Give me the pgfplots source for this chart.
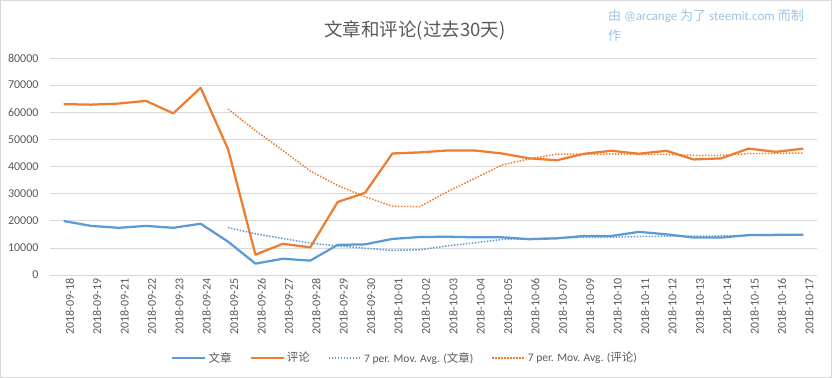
\documentclass[border=0pt]{standalone}
\usepackage{pgfplots}
\pgfplotsset{compat=1.18}
\usepackage{fontspec}
\setmainfont{Carlito}
\newfontfamily\cjk{Noto Sans CJK SC}
\definecolor{cblue}{HTML}{5B9BD5}
\definecolor{corange}{HTML}{ED7D31}
\definecolor{gridc}{HTML}{D9D9D9}
\definecolor{txt}{HTML}{595959}
\definecolor{attr}{HTML}{9DC3E6}
\begin{document}
\begin{tikzpicture}
\useasboundingbox (-50bp,-103bp) rectangle (782bp,275bp);
\draw[gridc, line width=0.75bp] (-49.6bp,-102.6bp) rectangle (781.6bp,274.6bp);
\begin{axis}[
  scale only axis, width=767bp, height=217bp,
  xmin=-0.5, xmax=27.5, ymin=0, ymax=80000,
  ytick={0,10000,...,80000},
  xtick={0,...,27},
  xticklabels={2018-09-18,2018-09-19,2018-09-21,2018-09-22,2018-09-23,2018-09-24,2018-09-25,2018-09-26,2018-09-27,2018-09-28,2018-09-29,2018-09-30,2018-10-01,2018-10-02,2018-10-03,2018-10-04,2018-10-05,2018-10-06,2018-10-07,2018-10-09,2018-10-10,2018-10-11,2018-10-12,2018-10-13,2018-10-14,2018-10-15,2018-10-16,2018-10-17},
  scaled y ticks=false,
  /pgf/number format/.cd, 1000 sep={}, assume math mode=true, /pgfplots/.cd,
  axis line style={draw=none},
  tick style={draw=none},
  major tick length=0pt,
  ymajorgrids, grid style={gridc, line width=0.75bp},
  ticklabel style={font=\fontsize{12bp}{14bp}\selectfont, text=txt},
  yticklabel style={xshift=-8bp},
  xticklabel style={rotate=90, anchor=east, yshift=-6bp},
  legend style={at={(0.463,-0.382)}, anchor=center, draw=none, fill=none,
    font=\fontsize{11.5bp}{14bp}\selectfont, text=txt,
    /tikz/every even column/.append style={column sep=16bp},
    inner sep=0pt},
  legend columns=-1,
  legend image code/.code={\draw[#1] (0bp,0bp) -- (33bp,0bp);},
]
\addplot[cblue, line width=2.25bp, line join=round] coordinates {
(0,19900)(1,18100)(2,17400)(3,18100)(4,17400)(5,18900)(6,12300)(7,4200)(8,6000)(9,5300)
(10,11100)(11,11300)(12,13300)(13,14000)(14,14100)(15,13900)(16,13900)(17,13200)(18,13500)(19,14400)
(20,14400)(21,15900)(22,15000)(23,13800)(24,13800)(25,14700)(26,14800)(27,14800)};
\addlegendentry{\cjk 文章}
\addplot[corange, line width=2.25bp, line join=round] coordinates {
(0,63000)(1,62800)(2,63200)(3,64200)(4,59600)(5,69000)(6,46400)(7,7500)(8,11500)(9,10200)
(10,26900)(11,30300)(12,44800)(13,45200)(14,45900)(15,45900)(16,44800)(17,43000)(18,42300)(19,44700)
(20,45800)(21,44700)(22,45800)(23,42600)(24,43000)(25,46600)(26,45400)(27,46600)};
\addlegendentry{\cjk 评论}
\addplot[cblue, line width=1.5bp, dash pattern=on 1.5bp off 1.5bp] coordinates {
(6,17443)(7,15200)(8,13471)(9,11743)(10,10743)(11,9871)(12,9071)(13,9314)(14,10729)(15,11857)
(16,13086)(17,13386)(18,13700)(19,13857)(20,13914)(21,14171)(22,14329)(23,14314)(24,14400)(25,14571)
(26,14629)(27,14686)};
\addlegendentry{7 per. Mov. Avg. ({\cjk 文章})}
\addplot[corange, line width=1.5bp, dash pattern=on 1.5bp off 1.5bp] coordinates {
(6,61171)(7,53243)(8,45914)(9,38343)(10,33014)(11,28829)(12,25371)(13,25200)(14,30686)(15,35600)
(16,40543)(17,42843)(18,44557)(19,44543)(20,44629)(21,44457)(22,44443)(23,44129)(24,44129)(25,44743)
(26,44843)(27,44957)};
\addlegendentry{7 per. Mov. Avg. ({\cjk 评论})}
\end{axis}
\node[text=txt, font=\cjk\fontsize{18.5bp}{22bp}\selectfont, anchor=center] at (365bp,245bp) {文章和评论(过去30天)};
\node[text=attr, font=\fontsize{13bp}{20bp}\selectfont, anchor=north west, align=left, inner sep=0pt] at (558bp,266bp) {{\cjk 由} @arcange {\cjk 为了} steemit.com {\cjk 而制}\\{\cjk 作}};
\end{tikzpicture}
\end{document}
